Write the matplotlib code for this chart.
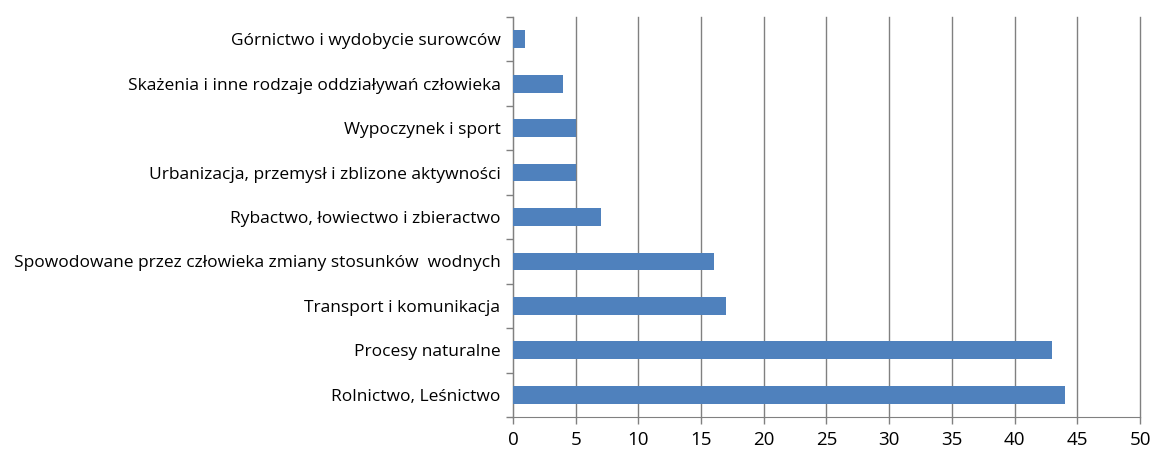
import numpy as np
import matplotlib.pyplot as plt

categories = [
    "Rolnictwo, Leśnictwo",
    "Procesy naturalne",
    "Transport i komunikacja",
    "Spowodowane przez człowieka zmiany stosunków  wodnych",
    "Rybactwo, łowiectwo i zbieractwo",
    "Urbanizacja, przemysł i zblizone aktywności",
    "Wypoczynek i sport",
    "Skażenia i inne rodzaje oddziaływań człowieka",
    "Górnictwo i wydobycie surowców",
]
values = [44, 43, 17, 16, 7, 5, 5, 4, 1]
xticks = np.arange(0, 51, 5)

plt.rcParams['font.family'] = ['Open Sans', 'DejaVu Sans']

fig = plt.figure(figsize=(11.54, 4.54), dpi=100)
ax = fig.add_axes([0.4445, 0.0815, 0.5434, 0.8811])

pos = np.arange(len(categories))
ax.barh(pos, values, height=0.4, color="#4F81BD", zorder=3)

ax.set_xlim(0, 50)
ax.set_ylim(-0.5, len(categories) - 0.5)
ax.set_xticks(xticks)
ax.set_xticklabels([str(t) for t in xticks], fontsize=13.5)
ax.set_yticks(pos)
ax.set_yticklabels(categories, fontsize=12.5)
ax.set_yticks(np.arange(-0.5, len(categories), 1), minor=True)

ax.tick_params(axis="y", which="major", length=0, pad=9)
ax.tick_params(axis="y", which="minor", length=5, color="#808080", width=1)
ax.tick_params(axis="x", which="major", length=5, color="#808080", width=1, pad=5)

ax.grid(axis="x", color="#808080", linewidth=1, zorder=0)
for line in ax.get_xgridlines():
    line.set_clip_on(False)
for s in ["top", "right"]:
    ax.spines[s].set_visible(False)
for s in ["left", "bottom"]:
    ax.spines[s].set_color("#808080")

plt.savefig("out.png", dpi=100)
